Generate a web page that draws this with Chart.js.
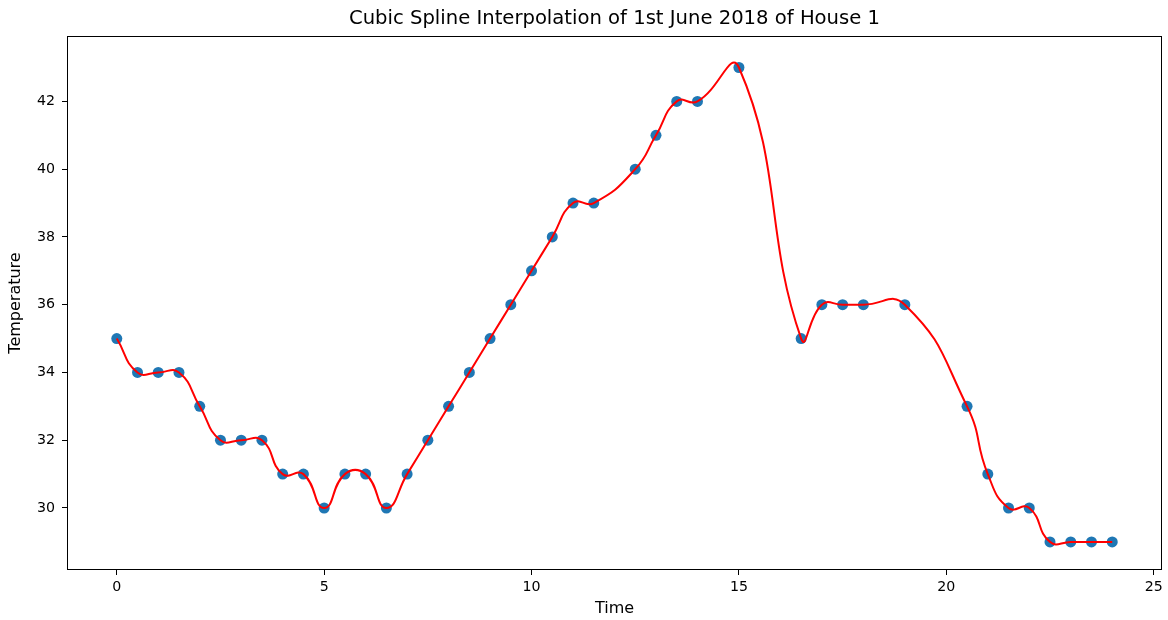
<!DOCTYPE html>
<html>
<head>
<meta charset="utf-8">
<title>Cubic Spline Interpolation of 1st June 2018 of House 1</title>
<script src="https://cdn.jsdelivr.net/npm/chart.js@4/dist/chart.umd.min.js"></script>
<style>
  html, body { margin: 0; padding: 0; background: #ffffff; }
  #wrap { width: 1168px; height: 620px; }
</style>
</head>
<body>
<div id="wrap"><canvas id="chart" width="1168" height="620"></canvas></div>
<script>
// Half-hourly readings for 1st June 2018, House 1 (hours since midnight)
const times = [0, 0.5, 1, 1.5, 2, 2.5, 3, 3.5, 4, 4.5, 5, 5.5, 6, 6.5, 7, 7.5, 8, 8.5, 9, 9.5,
               10, 10.5, 11, 11.5, 12.5, 13, 13.5, 14, 15, 16.5, 17, 17.5, 18, 19,
               20.5, 21, 21.5, 22, 22.5, 23, 23.5, 24];
const temperatures = [35, 34, 34, 34, 33, 32, 32, 32, 31, 31, 30, 31, 31, 30, 31, 32, 33, 34, 35, 36,
                      37, 38, 39, 39, 40, 41, 42, 42, 43, 35, 36, 36, 36, 36,
                      33, 31, 30, 30, 29, 29, 29, 29];

// Axis ticks
const xTicks = [0, 5, 10, 15, 20, 25];
const yTicks = [30, 32, 34, 36, 38, 40, 42];

const points = times.map((t, i) => ({ x: t, y: temperatures[i] }));

const FONT = "'DejaVu Sans', 'Liberation Sans', sans-serif";
const INK = '#000000';

// Full box frame around the plotting area
const frame = {
  id: 'frame',
  afterDraw(chart) {
    const { ctx, chartArea: a } = chart;
    ctx.save();
    ctx.strokeStyle = INK;
    ctx.lineWidth = 1;
    ctx.strokeRect(Math.round(a.left) + 0.5, Math.round(a.top) + 0.5,
                   Math.round(a.right - a.left) - 1, Math.round(a.bottom - a.top) - 1);
    ctx.restore();
  }
};

new Chart(document.getElementById('chart'), {
  type: 'line',
  data: {
    datasets: [
      {
        label: 'spline',
        data: points,
        borderColor: '#ff0000',
        borderWidth: 2,
        pointRadius: 0,
        pointHoverRadius: 0,
        fill: false,
        tension: 0.5,
        order: 0
      },
      {
        label: 'readings',
        data: points,
        showLine: false,
        pointRadius: 5.5,
        pointHoverRadius: 5.5,
        pointBackgroundColor: '#1f77b4',
        pointBorderColor: '#1f77b4',
        pointBorderWidth: 0,
        order: 1
      }
    ]
  },
  options: {
    responsive: false,
    animation: false,
    devicePixelRatio: 1,
    layout: { padding: { left: 0, right: 6, top: 0, bottom: 0 } },
    plugins: {
      legend: { display: false },
      tooltip: { enabled: false },
      title: {
        display: true,
        fullSize: false,
        text: 'Cubic Spline Interpolation of 1st June 2018 of House 1',
        color: INK,
        font: { family: FONT, size: 19.6, weight: 'normal', lineHeight: '23px' },
        padding: { top: 7, bottom: 6 }
      }
    },
    scales: {
      x: {
        type: 'linear',
        min: -1.2,
        max: 25.2,
        afterFit(scale) { scale.height = 50; },
        afterBuildTicks(scale) { scale.ticks = xTicks.map(v => ({ value: v })); },
        border: { display: false },
        grid: { display: true, drawOnChartArea: false, drawTicks: true, tickLength: 5, color: INK, lineWidth: 1 },
        ticks: { color: INK, font: { family: FONT, size: 14.2 }, padding: 4, maxRotation: 0 },
        title: {
          display: true,
          text: 'Time',
          color: INK,
          font: { family: FONT, size: 16, lineHeight: 1.2 },
          padding: { top: 0, bottom: 1.5 }
        }
      },
      y: {
        type: 'linear',
        min: 28.17,
        max: 43.93,
        afterFit(scale) { scale.width = 67; },
        afterBuildTicks(scale) { scale.ticks = yTicks.map(v => ({ value: v })); },
        border: { display: false },
        grid: { display: true, drawOnChartArea: false, drawTicks: true, tickLength: 5, color: INK, lineWidth: 1 },
        ticks: { color: INK, font: { family: FONT, size: 14.2 }, padding: 7 },
        title: {
          display: true,
          text: 'Temperature',
          color: INK,
          font: { family: FONT, size: 16, lineHeight: 1.2 },
          padding: { top: 6.5, bottom: 0 }
        }
      }
    }
  },
  plugins: [frame]
});
</script>
</body>
</html>
